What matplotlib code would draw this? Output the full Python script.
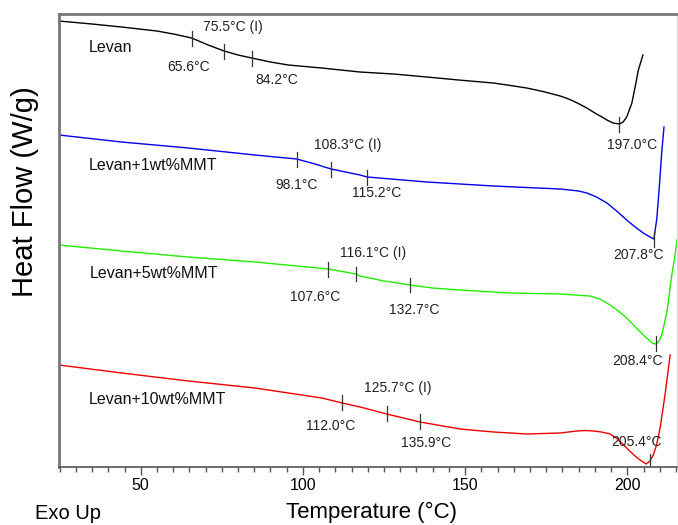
import matplotlib
matplotlib.use("Agg")
import matplotlib.pyplot as plt
import numpy as np

plt.rcParams['font.family'] = ['Liberation Sans', 'DejaVu Sans']

# DSC curves, temperature (C) vs heat flow (arbitrary offset, exo up)
t_levan = [24.8, 35, 44.1, 55.0, 60.1, 65.7, 70.8, 75.7, 80, 84.2, 90, 95.5, 105.8,
           117.6, 128, 138.2, 148, 158.7, 164, 169.0, 174, 179.3, 181.5, 183.3, 185.5,
           187.5, 189, 190.5, 192.2, 193.7, 195.6, 197.5, 198.7, 199.8, 200.6, 201.4,
           202.4, 203.4, 204.8]
hf_levan = [4.46, 4.43, 4.40, 4.36, 4.33, 4.29, 4.22, 4.16, 4.12, 4.09, 4.05, 4.02, 3.99,
            3.95, 3.93, 3.90, 3.87, 3.84, 3.815, 3.79, 3.755, 3.71, 3.685, 3.66, 3.625,
            3.59, 3.56, 3.53, 3.50, 3.47, 3.44, 3.43, 3.45, 3.50, 3.57, 3.64,
            3.80, 3.97, 4.12]

t_mmt1 = [24.8, 44.1, 64.7, 85.2, 98.1, 103.7, 108.7, 117.6, 119.8, 138.2, 158.7,
          179.3, 185, 187.5, 190.5, 193.7, 196.7, 199.8, 202.4, 204.9, 207.0, 208.2,
          209.1, 209.9, 210.6, 211.3]
hf_mmt1 = [3.32, 3.25, 3.19, 3.12, 3.08, 3.03, 2.98, 2.92, 2.90, 2.85, 2.81,
           2.78, 2.76, 2.74, 2.70, 2.64, 2.56, 2.47, 2.40, 2.34, 2.30, 2.28,
           2.49, 2.82, 3.15, 3.40]

t_mmt5 = [24.8, 44.1, 64.7, 85.2, 107.8, 116.4, 117.6, 125, 133.0, 140, 148.4, 163.8,
          179.3, 188.5, 191.5, 194.7, 197.2, 199.8, 202.5, 204.9, 207.0, 207.9, 208.8,
          209.8, 210.6, 212.2, 213.7, 214.7, 215.3]
hf_mmt5 = [2.22, 2.16, 2.10, 2.05, 1.98, 1.93, 1.91, 1.86, 1.82, 1.79, 1.77, 1.74,
           1.73, 1.71, 1.68, 1.62, 1.56, 1.49, 1.40, 1.32, 1.26, 1.235, 1.23,
           1.26, 1.32, 1.55, 1.92, 2.12, 2.27]

t_mmt10 = [24.8, 44.1, 64.7, 85.2, 105.8, 112.1, 117.6, 125.8, 136.1, 148.4, 158.7,
           169.0, 179.3, 184.5, 187, 189.5, 192, 194.7, 197.0, 199.8, 202.0, 203.9,
           205.8, 207.0, 208.0, 209.0, 210.1, 211.6, 213.2]
hf_mmt10 = [1.02, 0.94, 0.86, 0.79, 0.69, 0.64, 0.60, 0.53, 0.45, 0.38, 0.35,
            0.33, 0.34, 0.36, 0.365, 0.36, 0.35, 0.33, 0.28, 0.19, 0.12, 0.07,
            0.03, 0.06, 0.12, 0.22, 0.39, 0.72, 1.12]

names = ['Levan', 'Levan+1wt%MMT', 'Levan+5wt%MMT', 'Levan+10wt%MMT']
colors = ['#000000', '#0000ee', '#22ee00', '#ee0000']

# marked temperatures (where the marks sit on the curves) and their labels
marks = [[65.7, 75.7, 84.2, 197.5],
         [98.1, 108.7, 119.8, 208.2],
         [107.8, 116.4, 133.0, 208.8],
         [112.1, 125.8, 136.1, 206.9]]
mark_labels = [['65.6°C', '75.5°C (I)', '84.2°C', '197.0°C'],
               ['98.1°C', '108.3°C (I)', '115.2°C', '207.8°C'],
               ['107.6°C', '116.1°C (I)', '132.7°C', '208.4°C'],
               ['112.0°C', '125.7°C (I)', '135.9°C', '205.4°C']]

# label placement (x, y in data coords)
label_pos = [[(64.7, 4.00), (78.5, 4.40), (91.8, 3.87), (201.4, 3.22)],
             [(98.0, 2.82), (113.7, 3.22), (122.7, 2.74), (203.3, 2.12)],
             [(103.7, 1.70), (121.7, 2.14), (134.2, 1.57), (203.2, 1.06)],
             [(108.4, 0.41), (129.2, 0.79), (137.9, 0.24), (202.7, 0.25)]]
name_pos = [(33.9, 4.20), (33.9, 3.02), (34.4, 1.94), (33.9, 0.67)]

series = [(t_levan, hf_levan), (t_mmt1, hf_mmt1), (t_mmt5, hf_mmt5), (t_mmt10, hf_mmt10)]

fig = plt.figure(figsize=(6.78, 5.25), dpi=100)
ax = fig.add_axes([0.087, 0.1105, 0.9115, 0.8628])

for i, (t, hf) in enumerate(series):
    ax.plot(t, hf, color=colors[i], lw=1.0)
    for tm, lab, (lx, ly) in zip(marks[i], mark_labels[i], label_pos[i]):
        ym = np.interp(tm, t, hf)
        ax.plot([tm, tm], [ym - 0.075, ym + 0.075], color='#333333', lw=0.9)
        ax.text(lx, ly, lab, fontsize=10, ha='center', va='center', color='#222222')
    ax.text(name_pos[i][0], name_pos[i][1], names[i], fontsize=11.5, ha='left',
            va='center', color='#111111')

ax.set_xlim(24.8, 215.3)
ax.set_ylim(0, 4.53)
ax.set_xticks([50, 100, 150, 200])
ax.set_xticks(np.arange(25, 216, 5), minor=True)
ax.set_yticks([])
ax.tick_params(axis='x', which='major', length=6, width=1, color='#555555',
               labelsize=11.5, pad=2)
ax.tick_params(axis='x', which='minor', length=3.5, width=1, color='#555555')

ax.spines['top'].set_color('#777777')
ax.spines['top'].set_linewidth(2)
ax.spines['left'].set_color('#777777')
ax.spines['left'].set_linewidth(2)
ax.spines['bottom'].set_color('#555555')
ax.spines['bottom'].set_linewidth(1.2)
ax.spines['right'].set_color('#dddddd')
ax.spines['right'].set_linewidth(1)

fig.text(0.037, 0.635, 'Heat Flow (W/g)', rotation=90, fontsize=21,
         ha='center', va='center')
fig.text(0.548, 0.004, 'Temperature (°C)', fontsize=16, ha='center', va='bottom')
fig.text(0.052, 0.004, 'Exo Up', fontsize=14.5, ha='left', va='bottom')

fig.savefig('out.png', dpi=100)
